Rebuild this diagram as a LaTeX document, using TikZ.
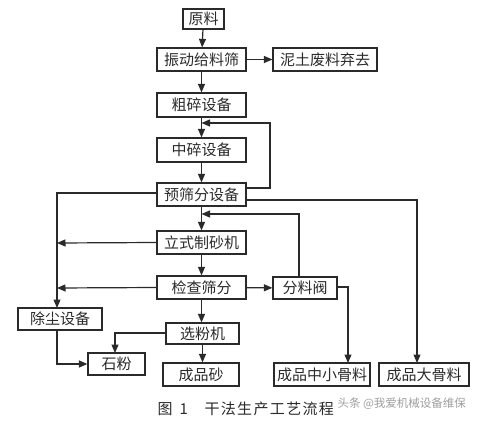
\documentclass[tikz,border=0pt]{standalone}
\usepackage{fontspec}
\setmainfont{Noto Sans CJK SC}
\usetikzlibrary{arrows.meta}
\definecolor{ink}{HTML}{2A2A2A}
\tikzset{
  bx/.style={draw=ink, line width=1.2pt, text=ink, inner sep=0pt, font=\fontsize{15pt}{17pt}\selectfont, minimum height=23pt},
  ln/.style={draw=ink, line width=1.2pt},
  ar/.style={ln, -{Triangle[length=8.5pt,width=7pt]}},
}
\begin{document}
\begin{tikzpicture}[x=1pt,y=-1pt]
\useasboundingbox (0,0) rectangle (484,422);
% boxes
\node[bx, minimum width=41pt, minimum height=20pt] (yl) at (203.5,19) {原料};
\node[bx, minimum width=89pt] (zd) at (201.5,59.5) {振动给料筛};
\node[bx, minimum width=104pt] (nt) at (325,59.5) {泥土废料弃去};
\node[bx, minimum width=89pt, minimum height=24pt] (cs) at (201.5,105) {粗碎设备};
\node[bx, minimum width=89pt, minimum height=24pt] (zs) at (201.5,150) {中碎设备};
\node[bx, minimum width=89pt] (ys) at (201.5,194.5) {预筛分设备};
\node[bx, minimum width=89pt] (lz) at (201.5,242.5) {立式制砂机};
\node[bx, minimum width=89pt] (jc) at (201.5,287.5) {检查筛分};
\node[bx, minimum width=64pt, minimum height=22pt] (fl) at (305,288) {分料阀};
\node[bx, minimum width=84pt, minimum height=22pt] (cc) at (60,319) {除尘设备};
\node[bx, minimum width=73pt, minimum height=21pt] (xf) at (202.5,333.5) {选粉机};
\node[bx, minimum width=57pt, minimum height=22pt] (sf) at (116.5,364) {石粉};
\node[bx, minimum width=76pt] (cp) at (201,374.5) {成品砂};
\node[bx, minimum width=96pt] (zx) at (322,374.5) {成品中小骨料};
\node[bx, minimum width=90pt] (dg) at (424,374.5) {成品大骨料};
% helper coordinates
\coordinate (m1) at (201.5,123);
\coordinate (m2) at (201.5,214);
\coordinate (l1) at (57,243);
\coordinate (l2) at (57,288);
% main column
\draw[ar] (yl) -- (zd);
\draw[ar] (zd) -- (nt);
\draw[ar] (zd) -- (cs);
\draw[ar] (cs) -- (zs);
\draw[ar] (zs) -- (ys);
\draw[ar] (ys) -- (lz);
\draw[ar] (lz) -- (jc);
\draw[ar] (jc) -- (xf.north -| jc.south);
\draw[ar] (xf) -- (cp.north -| xf.south);
\draw[ar] (jc) -- (fl);
% loops
\draw[ar] ([yshift=6.5pt]ys.east) -| (270,123) -- (m1);
\draw[ar] (299,277) |- (m2);
\draw[ar] ([yshift=1.5pt]ys.west) -| (57,308);
\draw[ar] ([yshift=-5.5pt]ys.east) -| (417,363);
\draw[ar] (lz.west) -- (l1);
\draw[ar] (jc.west) -- (l2);
\draw[ar] ([yshift=1pt]fl.east) -| (348,363);
\draw[ar] ([yshift=0.5pt]xf.west) -| (115,353);
\draw[ar] (57,330) |- (sf.west);
% caption
\node[text=ink, font=\fontsize{15pt}{17pt}\selectfont, anchor=west] (cap1) at (154,409) {图\hspace{7pt}1};
\node[text=ink, font=\fontsize{15pt}{17pt}\addfontfeatures{LetterSpace=9}, anchor=west] (cap2) at (201,409) {干法生产工艺流程};
\node[text=gray!75, font=\fontsize{11.5pt}{13pt}\selectfont, anchor=west] (wm) at (334,404) {头条 @我爱机械设备维保};
\end{tikzpicture}
\end{document}
